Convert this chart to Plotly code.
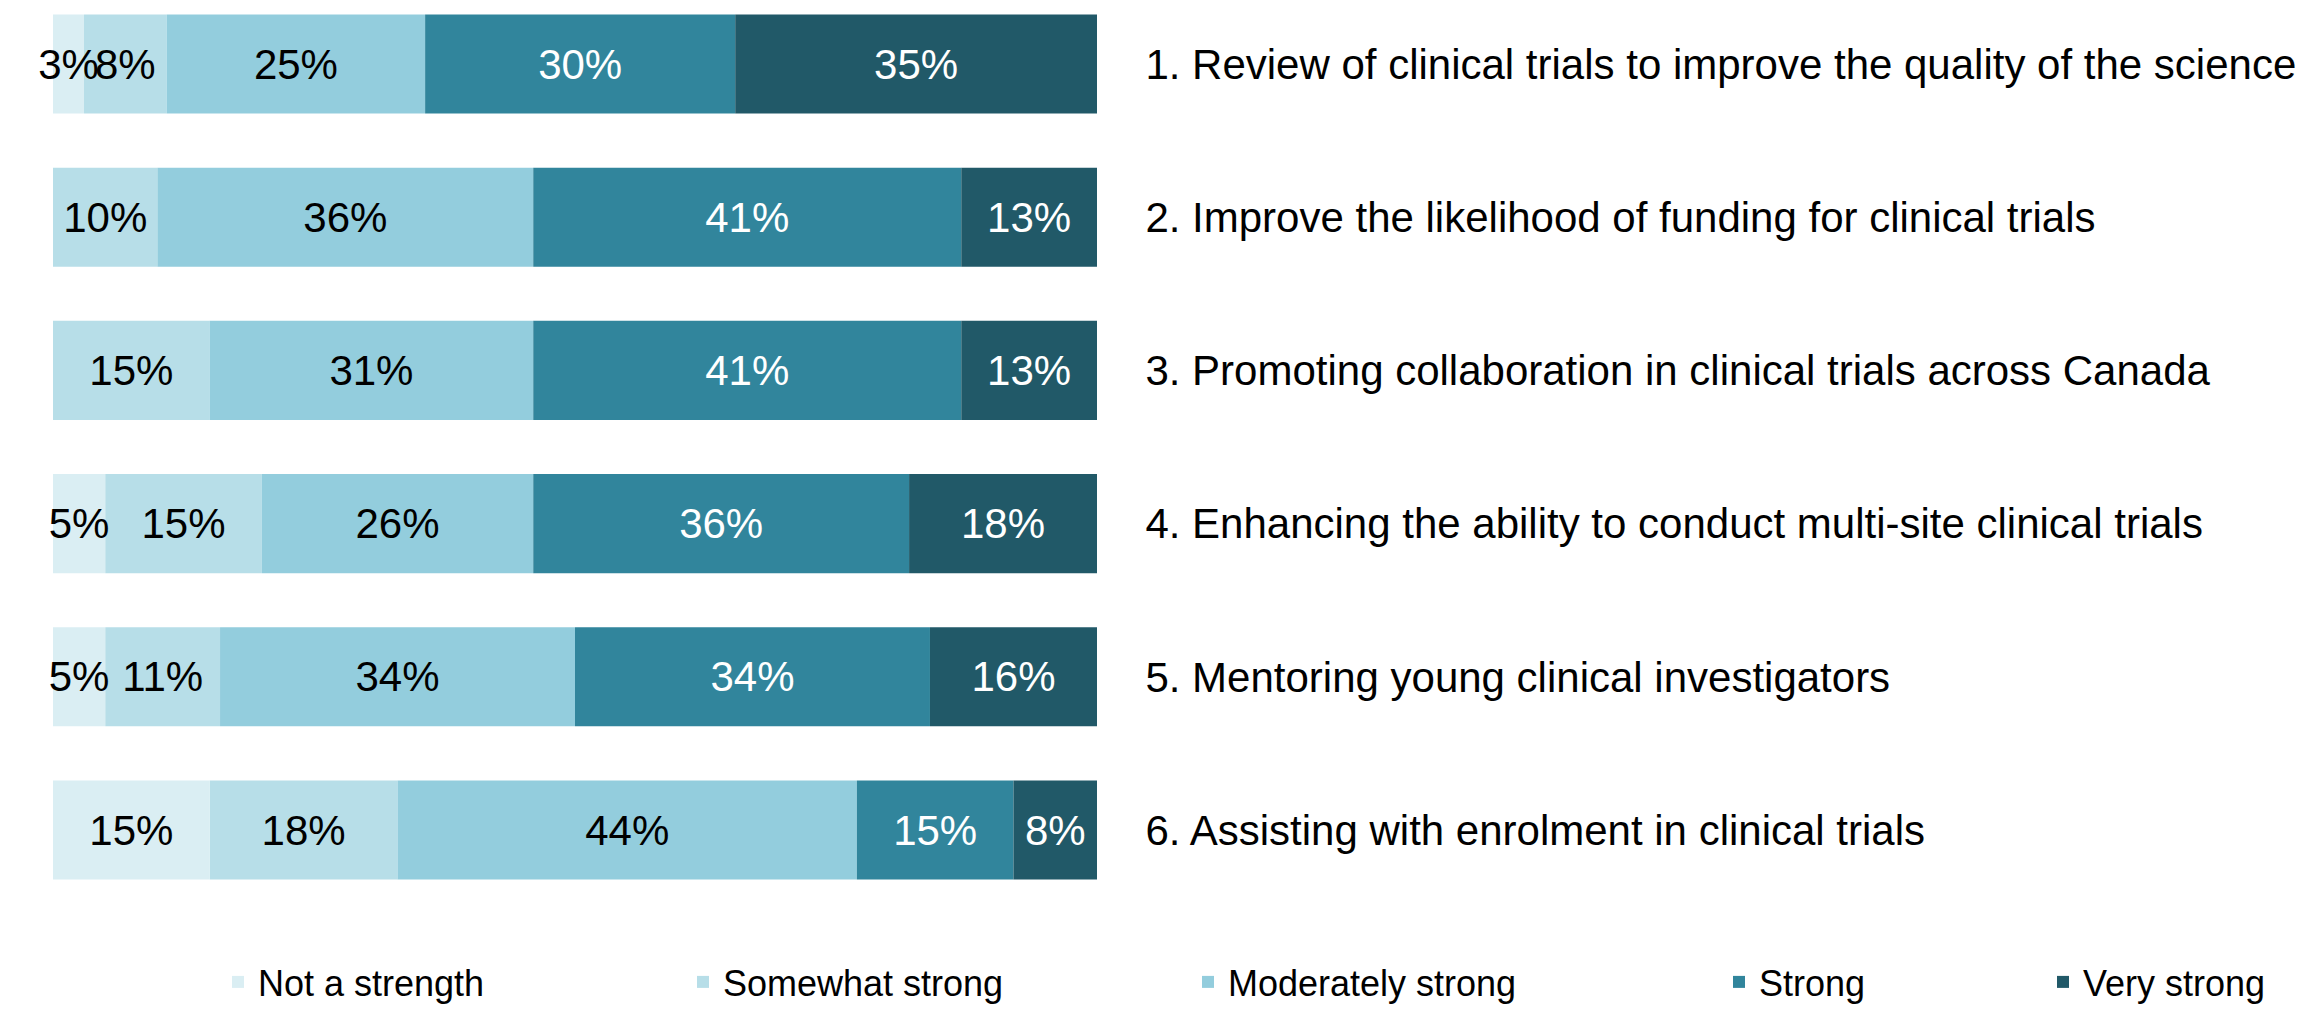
import plotly.graph_objects as go

categories = [
    "1. Review of clinical trials to improve the quality of the science",
    "2. Improve the likelihood of funding for clinical trials",
    "3. Promoting collaboration in clinical trials across Canada",
    "4. Enhancing the ability to conduct multi-site clinical trials",
    "5. Mentoring young clinical investigators",
    "6. Assisting with enrolment in clinical trials",
]
series_names = ["Not a strength", "Somewhat strong", "Moderately strong", "Strong", "Very strong"]
not_a_strength = [3, 0, 0, 5, 5, 15]
somewhat_strong = [8, 10, 15, 15, 11, 18]
moderately_strong = [25, 36, 31, 26, 34, 44]
strong = [30, 41, 41, 36, 34, 15]
very_strong = [35, 13, 13, 18, 16, 8]

series_values = [not_a_strength, somewhat_strong, moderately_strong, strong, very_strong]
colors = ["#DAEEF3", "#B7DEE8", "#93CDDD", "#31859C", "#215968"]
text_colors = ["#000000", "#000000", "#000000", "#FFFFFF", "#FFFFFF"]

FONT = "Liberation Sans, Arial, sans-serif"
W, H = 2321, 1017
L, R_EDGE = 45, 1089
T, B_EDGE = 2, 892
ROW0_Y, PITCH = 56, 153.2

# 100%-stacked: normalise each row, compute segment bases
totals = [sum(vals) for vals in zip(*series_values)]
norm = [[v / t * 100 for v, t in zip(vals, totals)] for vals in series_values]
bases = []
running = [0.0] * len(categories)
for vals in norm:
    bases.append(list(running))
    running = [r + v for r, v in zip(running, vals)]

fig = go.Figure()
legend_px = [241 - 19, 699 - 12, 1199 - 7, 1729 - 6, 2061 - 14]
# draw the first (narrowest) series last so its overflowing labels stay visible
draw_order = [1, 2, 3, 4, 0]
for i in draw_order:
    name, vals = series_names[i], series_values[i]
    lg = "legend" if i == 0 else f"legend{i+1}"
    fig.add_trace(go.Bar(
        name=name,
        y=categories,
        x=norm[i],
        base=bases[i],
        orientation="h",
        marker=dict(color=colors[i], line=dict(width=0)),
        text=[f"{v}%" if v > 0 else "" for v in vals],
        textposition="inside",
        insidetextanchor="middle",
        textangle=0,
        constraintext="none",
        cliponaxis=False,
        textfont=dict(family=FONT, size=42, color=text_colors[i]),
        legend=lg,
        hoverinfo="skip",
    ))

pw = R_EDGE - L
ph = B_EDGE - T
layout_legends = {}
for i, px in enumerate(legend_px):
    key = "legend" if i == 0 else f"legend{i+1}"
    layout_legends[key] = dict(
        x=(px - 12 - L) / pw,
        xanchor="left",
        y=(B_EDGE - 974) / ph,
        yanchor="middle",
        orientation="h",
        font=dict(family=FONT, size=36, color="#000000"),
        bgcolor="rgba(0,0,0,0)",
        itemclick=False,
    )

fig.update_layout(
    width=W, height=H,
    barmode="overlay",
    bargap=0.353,
    plot_bgcolor="white",
    paper_bgcolor="white",
    margin=dict(l=L, r=W - R_EDGE, t=T, b=H - B_EDGE, autoexpand=False),
    showlegend=True,
    xaxis=dict(visible=False, range=[0, 100], fixedrange=True),
    yaxis=dict(
        side="right",
        range=[5 + (B_EDGE - (ROW0_Y + 5 * PITCH)) / PITCH, -(ROW0_Y - T) / PITCH],
        showgrid=False, zeroline=False, showline=False,
        ticks="outside", ticklen=39, tickcolor="rgba(0,0,0,0)",
        tickfont=dict(family=FONT, size=42, color="#000000"),
        automargin=False,
    ),
    **layout_legends,
)

fig.write_html("out.html")
